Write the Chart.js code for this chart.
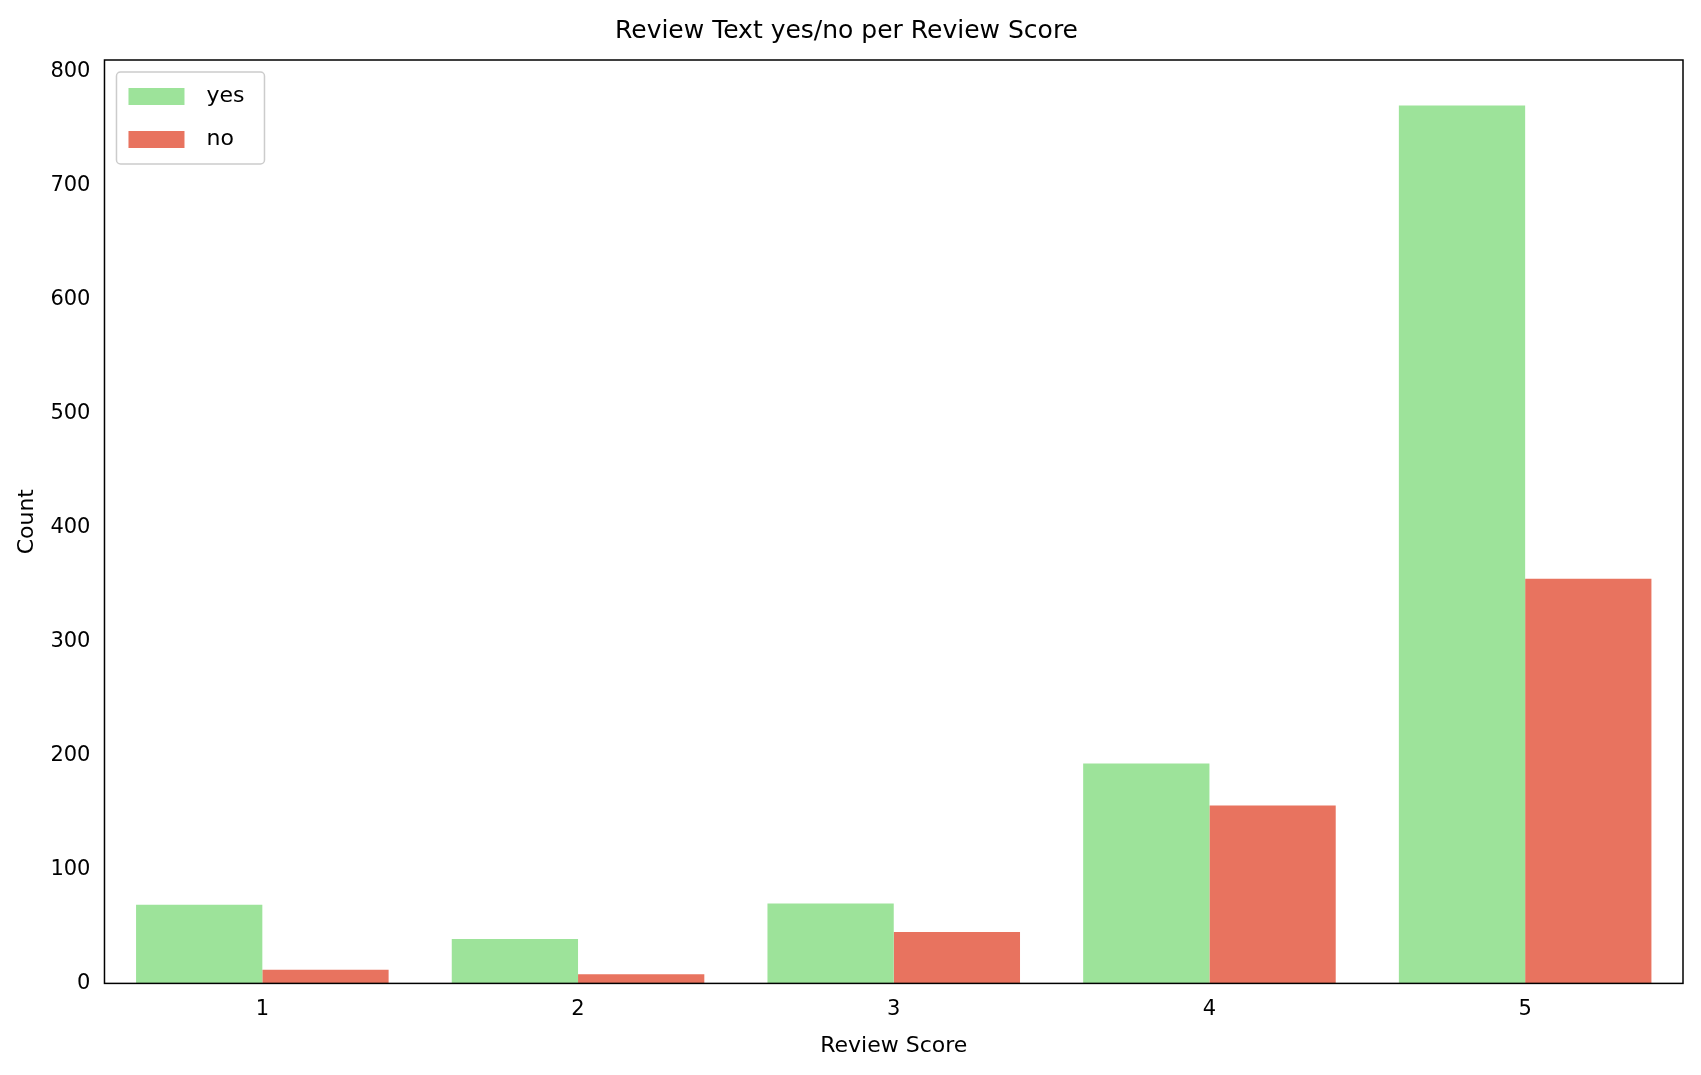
<!DOCTYPE html>
<html>
<head>
<meta charset="utf-8">
<script src="https://cdn.jsdelivr.net/npm/chart.js@4/dist/chart.umd.min.js"></script>
<style>html,body{margin:0;padding:0;background:#fff}</style>
</head>
<body>
<canvas id="c" width="1701" height="1075"></canvas>
<script>
const scores = ['1', '2', '3', '4', '5'];
const yesCounts = [69, 39, 70, 193, 770];
const noCounts = [12, 8, 45, 156, 355];
const yTicks = [0, 100, 200, 300, 400, 500, 600, 700, 800];

const FONT = 'DejaVu Sans';

// box legend inside the plot, top-left
const boxLegend = {
  id: 'boxLegend',
  afterDraw(chart) {
    const ctx = chart.ctx, a = chart.chartArea;
    const x = a.left + 12, y = a.top + 12, w = 148, h = 92;
    ctx.save();
    ctx.fillStyle = 'rgba(255,255,255,0.8)';
    ctx.strokeStyle = '#ccc';
    ctx.lineWidth = 1.5;
    ctx.beginPath();
    ctx.roundRect(x, y, w, h, 4);
    ctx.fill(); ctx.stroke();
    ctx.font = '22px ' + FONT;
    ctx.textBaseline = 'middle';
    chart.data.datasets.forEach((ds, i) => {
      const cy = y + 24 + i * 43;
      ctx.fillStyle = ds.backgroundColor;
      ctx.fillRect(x + 12, cy - 8, 56, 17);
      ctx.fillStyle = '#000';
      ctx.fillText(ds.label, x + 90, cy);
    });
    ctx.restore();
  }
};

// black frame around the plot
const frame = {
  id: 'frame',
  afterDraw(chart) {
    const ctx = chart.ctx, a = chart.chartArea;
    ctx.save();
    ctx.strokeStyle = '#000';
    ctx.lineWidth = 1.5;
    ctx.strokeRect(a.left, a.top, a.right - a.left, a.bottom - a.top);
    ctx.restore();
  }
};

new Chart(document.getElementById('c'), {
  type: 'bar',
  data: {
    labels: scores,
    datasets: [
      { label: 'yes', data: yesCounts, backgroundColor: '#9de39a' },
      { label: 'no', data: noCounts, backgroundColor: '#e8735f' }
    ]
  },
  options: {
    responsive: false,
    animation: false,
    datasets: { bar: { barPercentage: 1, categoryPercentage: 0.8 } },
    layout: { padding: { left: 10, right: 18, top: 8, bottom: 12 } },
    plugins: {
      legend: { display: false },
      tooltip: { enabled: false },
      title: {
        display: true,
        text: 'Review Text yes/no per Review Score',
        color: '#000',
        font: { family: FONT, size: 25, weight: 'normal' },
        padding: { top: 8, bottom: 14 }
      }
    },
    scales: {
      x: {
        grid: { display: false },
        border: { display: false },
        ticks: { color: '#000', font: { family: FONT, size: 21 }, padding: 6 },
        title: { display: true, text: 'Review Score', color: '#000', font: { family: FONT, size: 22 } }
      },
      y: {
        min: 0,
        max: 810,
        afterBuildTicks: axis => { axis.ticks = yTicks.map(v => ({ value: v })); },
        grid: { display: false, drawTicks: true },
        border: { display: false },
        ticks: { color: '#000', font: { family: FONT, size: 21 }, padding: 6 },
        title: { display: true, text: 'Count', color: '#000', font: { family: FONT, size: 22 } }
      }
    }
  },
  plugins: [boxLegend, frame]
});
</script>
</body>
</html>
